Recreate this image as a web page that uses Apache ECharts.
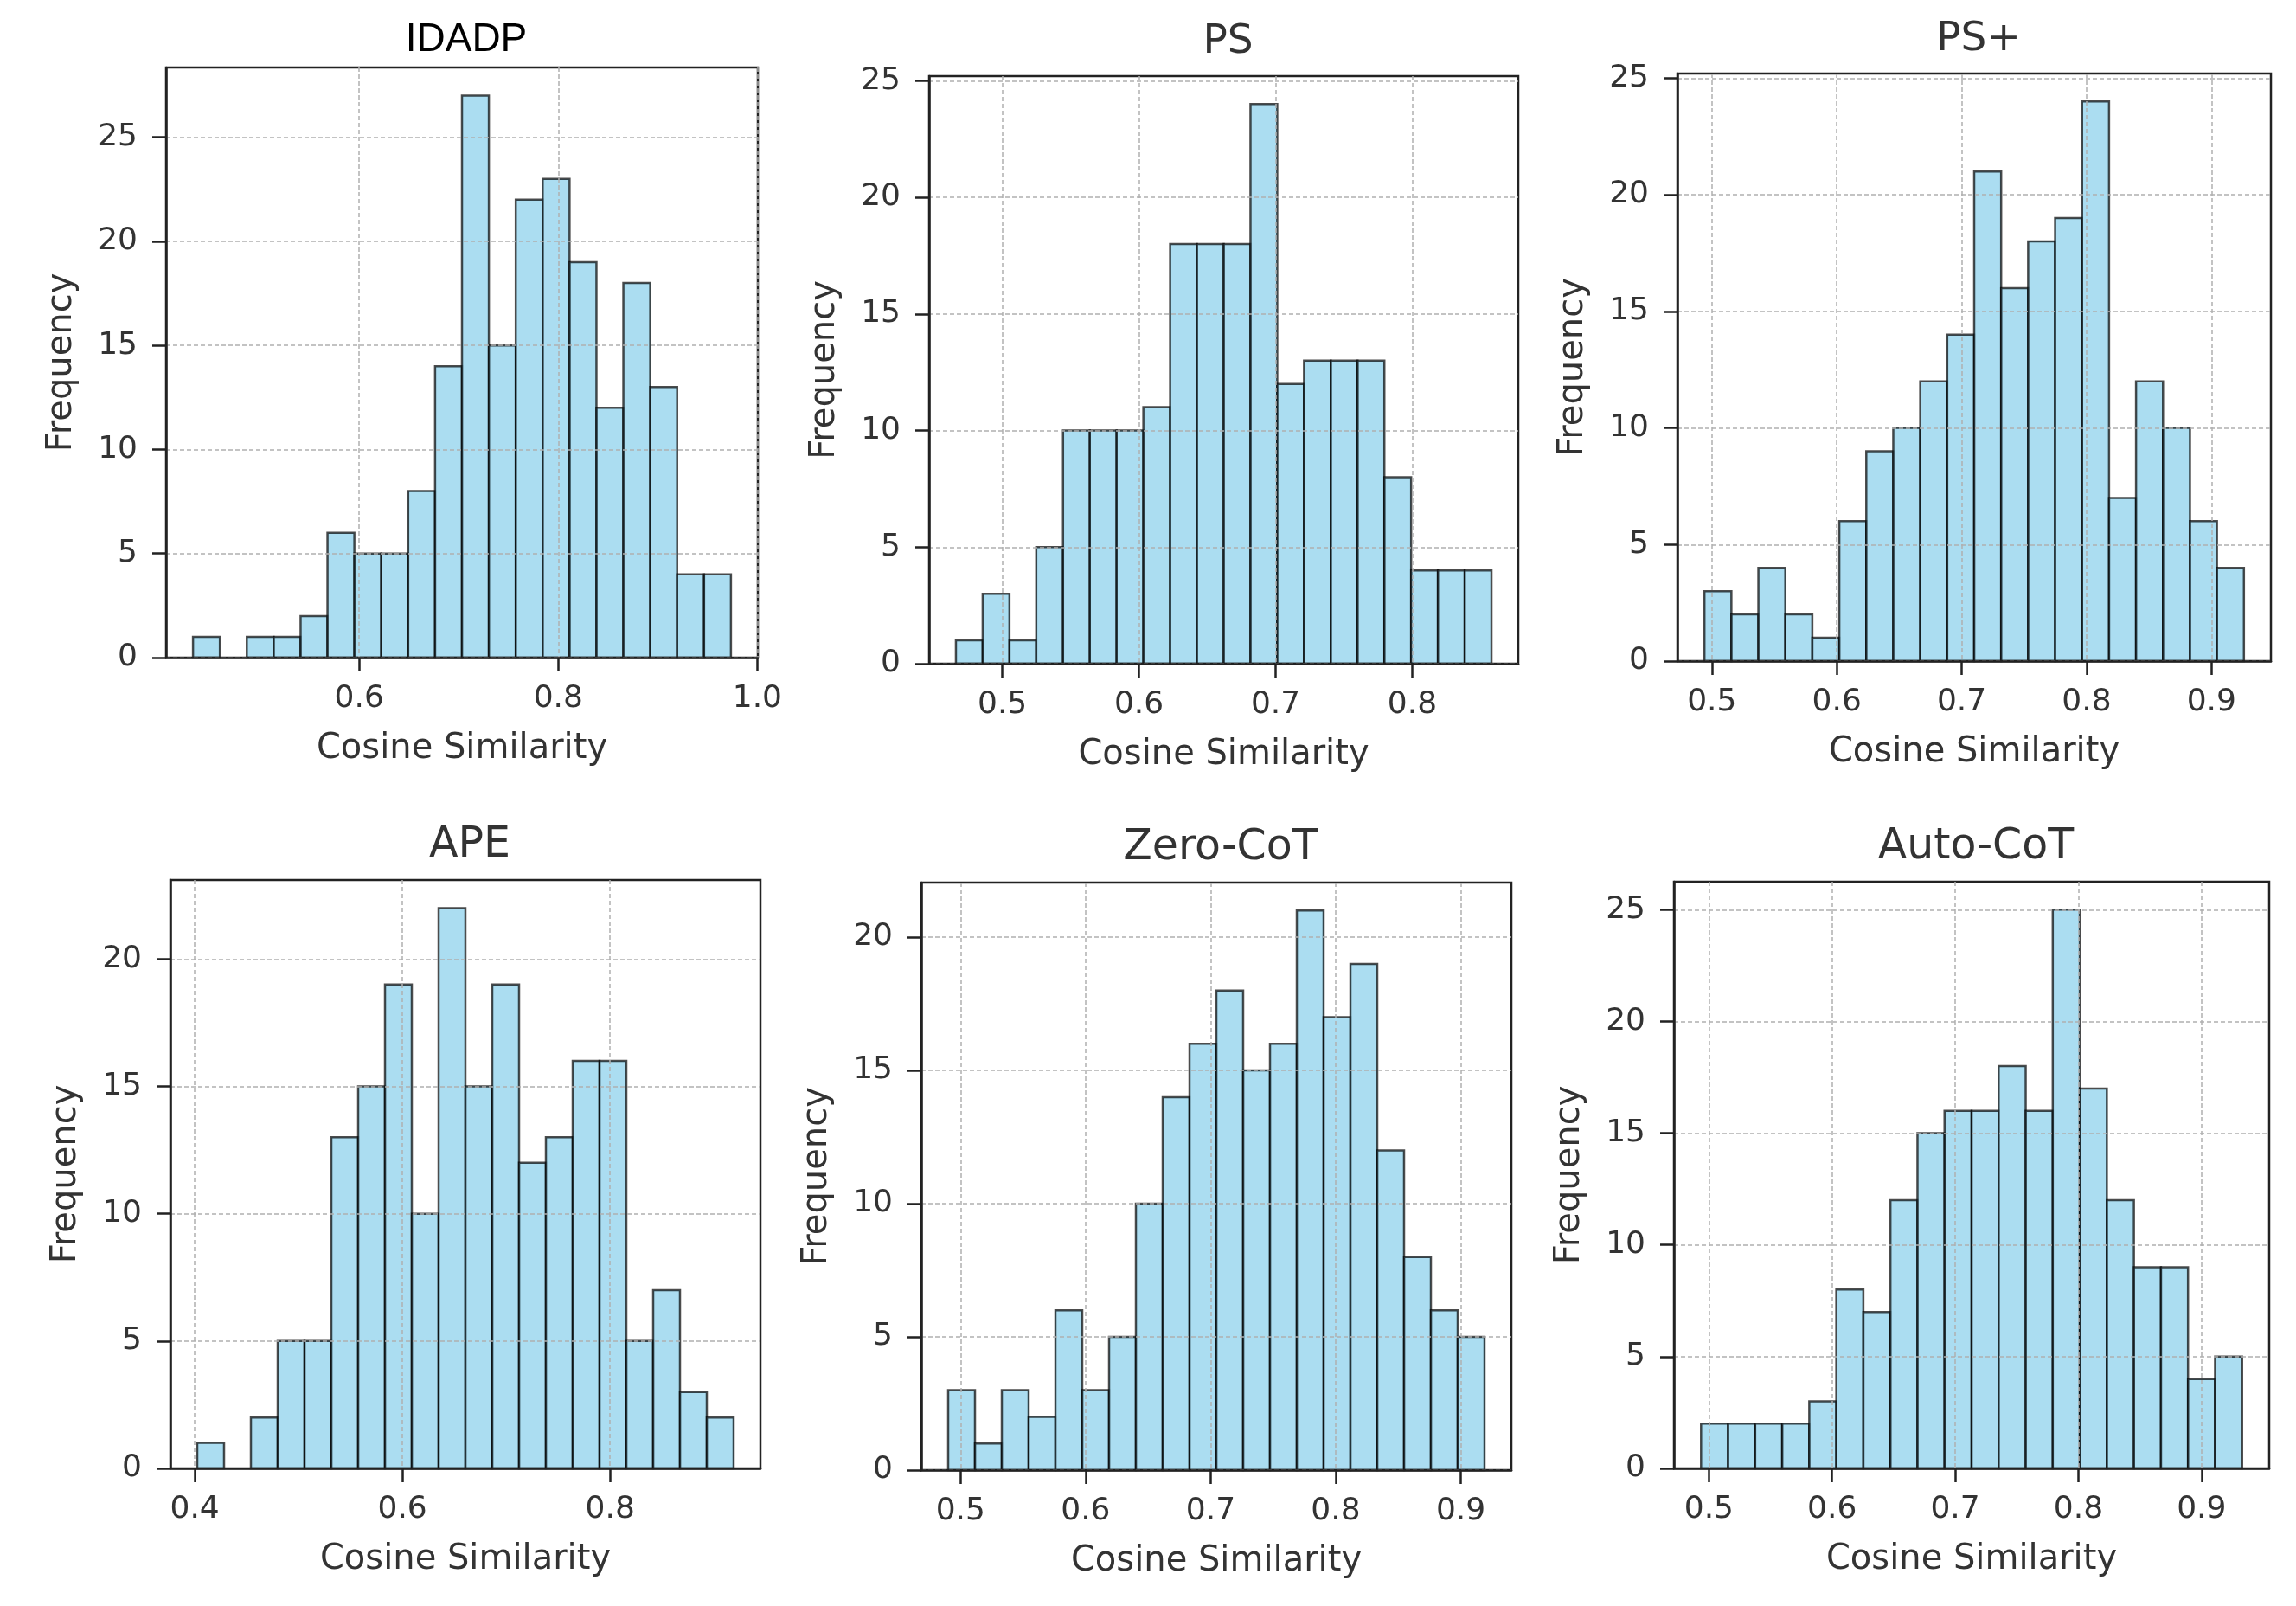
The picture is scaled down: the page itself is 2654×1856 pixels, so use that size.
<!DOCTYPE html>
<html>
<head>
<meta charset="utf-8">
<script src="https://cdn.jsdelivr.net/npm/echarts@6/dist/echarts.min.js"></script>
<style>
html,body{margin:0;padding:0;background:#fff;}
#chart{width:2654px;height:1856px;}
</style>
</head>
<body>
<div id="chart"></div>
<script>
// ---- data ----
const titles = ['IDADP', 'PS', 'PS+', 'APE', 'Zero-CoT', 'Auto-CoT'];
const idadpCounts   = [1,0,1,1,2,6,5,5,8,14,27,15,22,23,19,12,18,13,4,4];
const psCounts      = [1,3,1,5,10,10,10,11,18,18,18,24,12,13,13,13,8,4,4,4];
const psPlusCounts  = [3,2,4,2,1,6,9,10,12,14,21,16,18,19,24,7,12,10,6,4];
const apeCounts     = [1,0,2,5,5,13,15,19,10,22,15,19,12,13,16,16,5,7,3,2];
const zeroCotCounts = [3,1,3,2,6,3,5,10,14,16,18,15,16,21,17,19,12,8,6,5];
const autoCotCounts = [2,2,2,2,3,8,7,12,15,16,16,18,16,25,17,12,9,9,4,5];
// data min / max of each histogram (first and last bin edge)
const binRanges = [[0.433,0.9735],[0.466,0.858],[0.494,0.926],[0.4024,0.919],[0.4901,0.919],[0.4936,0.933]];
const xTicks = [
  [0.6,0.8,1.0],
  [0.5,0.6,0.7,0.8],
  [0.5,0.6,0.7,0.8,0.9],
  [0.4,0.6,0.8],
  [0.5,0.6,0.7,0.8,0.9],
  [0.5,0.6,0.7,0.8,0.9]
];
const yTicks = [
  [0,5,10,15,20,25],
  [0,5,10,15,20,25],
  [0,5,10,15,20,25],
  [0,5,10,15,20],
  [0,5,10,15,20],
  [0,5,10,15,20,25]
];
const xLabel = 'Cosine Similarity';
const yLabel = 'Frequency';

const allCounts = [idadpCounts, psCounts, psPlusCounts, apeCounts, zeroCotCounts, autoCotCounts];

// ---- layout (pixels) ----
const gridBoxes = [
  {left:192,  top:78,   width:684, height:682},
  {left:1074, top:88,   width:681, height:679},
  {left:1939, top:85,   width:686, height:679},
  {left:197,  top:1017, width:682, height:680},
  {left:1065, top:1020, width:682, height:679},
  {left:1935, top:1019, width:688, height:678}
];
const titleTops = [18, 20, 17, 948, 951, 950];
const titleSizes = [46, 47, 47, 49, 49, 49];

const FONT = '"DejaVu Sans", sans-serif';
const TXT = '#333';

const grids = [], xAxes = [], yAxes = [], series = [], titleArr = [];

allCounts.forEach((counts, i) => {
  const [lo, hi] = binRanges[i];
  const n = counts.length;
  const bw = (hi - lo) / n;
  const data = counts.map((c, k) => [lo + k * bw, lo + (k + 1) * bw, c]);
  const maxC = Math.max(...counts);
  const g = gridBoxes[i];

  grids.push(Object.assign({show:true, borderColor:'#222', borderWidth:2.5, backgroundColor:'transparent'}, g));

  titleArr.push({
    text: titles[i],
    left: g.left + g.width / 2,
    top: titleTops[i],
    textAlign: 'center',
    textStyle: {
      fontFamily: i === 0 ? '"Liberation Sans", Arial, sans-serif' : FONT,
      fontSize: titleSizes[i],
      fontWeight: 'normal',
      color: i === 0 ? '#000' : TXT
    }
  });

  xAxes.push({
    type: 'value', gridIndex: i,
    min: lo - bw, max: hi + bw,
    name: xLabel, nameLocation: 'middle', nameGap: 86,
    nameTextStyle: {fontFamily: FONT, fontSize: 40, color: TXT},
    axisLine: {show: true, onZero: false, lineStyle: {color: '#222', width: 2.5}},
    axisTick: {show: true, length: 16, lineStyle: {color: '#222', width: 2.5}, customValues: xTicks[i]},
    axisLabel: {show: true, margin: 30, fontFamily: FONT, fontSize: 36, color: TXT,
      customValues: xTicks[i], formatter: v => Number(v).toFixed(1)},
    splitLine: {show: true, lineStyle: {color: '#b0b0b0', width: 1.5, type: [5, 3]}}
  });

  yAxes.push({
    type: 'value', gridIndex: i,
    min: 0, max: maxC * 1.05,
    name: yLabel, nameLocation: 'middle', nameGap: 100,
    nameTextStyle: {fontFamily: FONT, fontSize: 40, color: TXT},
    axisLine: {show: true, lineStyle: {color: '#222', width: 2.5}},
    axisTick: {show: true, length: 16, lineStyle: {color: '#222', width: 2.5}, customValues: yTicks[i]},
    axisLabel: {show: true, margin: 33, fontFamily: FONT, fontSize: 36, color: TXT,
      customValues: yTicks[i], formatter: v => String(Math.round(v))},
    splitLine: {show: true, lineStyle: {color: '#b0b0b0', width: 1.5, type: [5, 3]}}
  });

  series.push({
    type: 'custom',
    xAxisIndex: i, yAxisIndex: i,
    z: -1,
    encode: {x: [0, 1], y: 2},
    data: data,
    renderItem: function (params, api) {
      const c = api.value(2);
      if (!c) return null;
      const a = api.coord([api.value(0), 0]);
      const b = api.coord([api.value(1), c]);
      return {
        type: 'rect',
        shape: {x: a[0], y: b[1], width: b[0] - a[0], height: a[1] - b[1]},
        style: {fill: 'rgba(135,206,235,0.7)', stroke: 'rgba(0,0,0,0.7)', lineWidth: 2.5}
      };
    }
  });
});

const chart = echarts.init(document.getElementById('chart'), null, {renderer: 'canvas'});
chart.setOption({
  animation: false,
  backgroundColor: '#fff',
  title: titleArr,
  grid: grids,
  xAxis: xAxes,
  yAxis: yAxes,
  series: series
});
</script>
</body>
</html>
